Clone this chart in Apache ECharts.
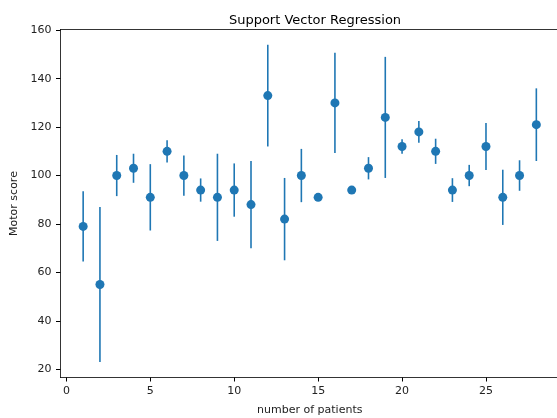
<!DOCTYPE html>
<html>
<head>
    <meta charset="utf-8">
    <title>Support Vector Regression</title>
    <script src="https://cdn.jsdelivr.net/npm/echarts@6/dist/echarts.min.js"></script>
</head>
<body style="margin:0">
    <div id="main" style="width:557px;height:418px;"></div>
    <script type="text/javascript">
    // patient index, predicted motor score, error (half-length of bar)
    var patients = [1, 2, 3, 4, 5, 6, 7, 8, 9, 10, 11, 12, 13, 14, 15, 16, 17, 18, 19, 20, 21, 22, 23, 24, 25, 26, 27, 28];
    var scores = [79, 55, 100, 103, 91, 110, 100, 94, 91, 94, 88, 133, 82, 100, 91, 130, 94, 103, 124, 112, 118, 110, 94, 100, 112, 91, 100, 121];
    var errors = [14.5, 32, 8.5, 6, 13.7, 4.6, 8.3, 4.8, 18, 11, 18, 21, 17, 11, 1, 20.7, 1, 4.6, 25, 3, 4.5, 5.2, 4.9, 4.4, 9.7, 11.4, 6.3, 15];
    var xTicks = [0, 5, 10, 15, 20, 25];
    var yTicks = [20, 40, 60, 80, 100, 120, 140, 160];

    var color = '#1f77b4';
    var font = 'DejaVu Sans';

    var points = [];
    var bars = [];
    for (var i = 0; i < patients.length; i++) {
        points.push([patients[i], scores[i]]);
        bars.push([patients[i], scores[i] - errors[i], scores[i] + errors[i]]);
    }

    var myChart = echarts.init(document.getElementById('main'));
    var option = {
        animation: false,
        title: {
            text: 'Support Vector Regression',
            left: 310,
            top: 9,
            textAlign: 'center',
            textStyle: { fontFamily: font, fontSize: 13, fontWeight: 'normal', color: '#000' }
        },
        grid: {
            left: 60.5,
            top: 29.5,
            right: -2,
            bottom: 40.5,
            outerBoundsMode: 'none',
            containLabel: false
        },
        xAxis: [{
            type: 'value',
            min: -0.35,
            max: 29.35,
            name: 'number of patients',
            nameLocation: 'middle',
            nameGap: 27,
            nameTextStyle: { fontFamily: font, fontSize: 11, color: '#222' },
            axisLine: { onZero: false, lineStyle: { color: '#000', width: 0.8 } },
            axisTick: { show: true, length: 4, customValues: xTicks, lineStyle: { color: '#000' } },
            axisLabel: { customValues: xTicks, fontFamily: font, fontSize: 11, color: '#222', margin: 8 },
            splitLine: { show: false }
        }, {
            // top spine only
            type: 'value',
            position: 'top',
            min: -0.35,
            max: 29.35,
            axisLine: { show: true, onZero: false, lineStyle: { color: '#000', width: 0.8 } },
            axisTick: { show: false },
            axisLabel: { show: false },
            splitLine: { show: false }
        }],
        yAxis: {
            type: 'value',
            min: 16.6,
            max: 160.3,
            name: 'Motor score',
            nameLocation: 'middle',
            nameGap: 41,
            nameTextStyle: { fontFamily: font, fontSize: 11, color: '#222' },
            axisLine: { show: true, onZero: false, lineStyle: { color: '#000', width: 0.8 } },
            axisTick: { show: true, length: 4.5, customValues: yTicks, lineStyle: { color: '#000' } },
            axisLabel: { customValues: yTicks, fontFamily: font, fontSize: 11, color: '#222', margin: 9 },
            splitLine: { show: false }
        },
        series: [{
            type: 'custom',
            data: bars,
            z: 2,
            renderItem: function (params, api) {
                var lo = api.coord([api.value(0), api.value(1)]);
                var hi = api.coord([api.value(0), api.value(2)]);
                return {
                    type: 'line',
                    shape: { x1: lo[0], y1: lo[1], x2: hi[0], y2: hi[1] },
                    style: { stroke: color, lineWidth: 1.6 }
                };
            }
        }, {
            type: 'scatter',
            data: points,
            z: 3,
            symbol: 'circle',
            symbolSize: 9,
            itemStyle: { color: color, opacity: 1 }
        }]
    };
    myChart.setOption(option);
    </script>
</body>
</html>
